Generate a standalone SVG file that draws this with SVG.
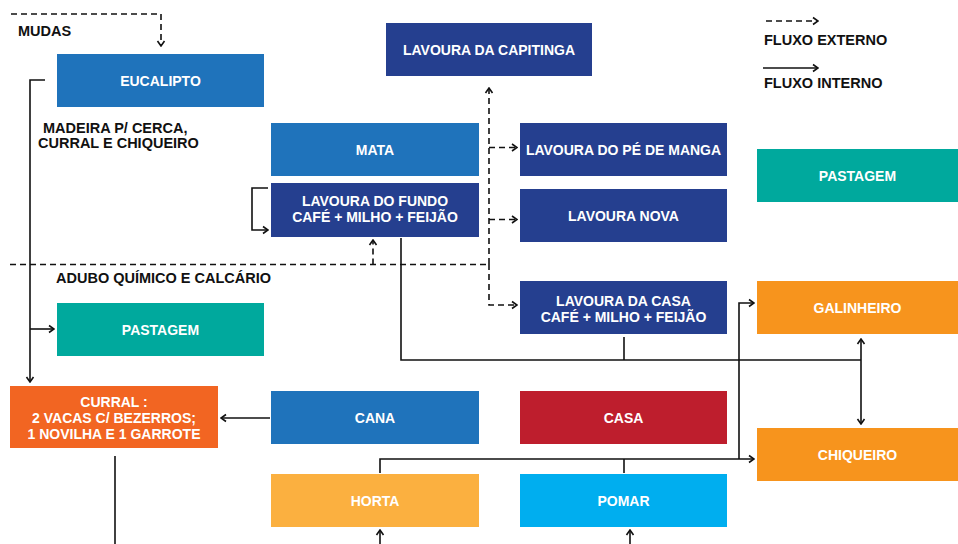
<svg xmlns="http://www.w3.org/2000/svg" width="958" height="544" viewBox="0 0 958 544">
<defs>
<marker id="ah" viewBox="0 0 10 10" refX="9" refY="5" markerWidth="10" markerHeight="10" markerUnits="userSpaceOnUse" orient="auto-start-reverse">
<path d="M4,1.5 L9,5 L4,8.5" fill="none" stroke="#111" stroke-width="1.6"/>
</marker>
<style>
.box text{font-family:"Liberation Sans",Arial,sans-serif;font-weight:bold;font-size:14px;fill:#fff;text-anchor:middle}
.lbl{font-family:"Liberation Sans",Arial,sans-serif;font-weight:bold;font-size:14.5px;fill:#111}
.s{fill:none;stroke:#111;stroke-width:1.6}
.d{fill:none;stroke:#111;stroke-width:1.6;stroke-dasharray:6,4}
.b1{fill:#1f73bb}.b2{fill:#253f8f}.tl{fill:#00a99d}.og{fill:#f7941d}.cu{fill:#f26522}.ca{fill:#be1e2d}.ho{fill:#fbb040}.po{fill:#00aeef}
</style>
</defs>
<g id="connectors">
<path class="d" d="M11,14 H161 V46" marker-end="url(#ah)"/>
<path class="s" d="M45,80 H30 V382" marker-end="url(#ah)"/>
<path class="s" d="M30,329 H54" marker-end="url(#ah)"/>
<path class="d" d="M10,264.5 H489"/>
<path class="d" d="M373,264.5 V240" marker-end="url(#ah)"/>
<path class="d" d="M489,264 V88" marker-end="url(#ah)"/>
<path class="d" d="M489,264 V305 H517" marker-end="url(#ah)"/>
<path class="d" d="M489,147.5 H517" marker-end="url(#ah)"/>
<path class="d" d="M489,219.5 H517" marker-end="url(#ah)"/>
<path class="s" d="M268,188 H252 V230 H268" marker-end="url(#ah)"/>
<path class="s" d="M401,238 V360 H861"/>
<path class="s" d="M624,337 V360"/>
<path class="s" d="M861,339 V424" marker-start="url(#ah)" marker-end="url(#ah)"/>
<path class="s" d="M739,459 V303 H754" marker-end="url(#ah)"/>
<path class="s" d="M380,473 V459 H754" marker-end="url(#ah)"/>
<path class="s" d="M624,459 V473"/>
<path class="s" d="M270,418 H221" marker-end="url(#ah)"/>
<path class="s" d="M115,456 V544"/>
<path class="s" d="M380,544 V530" marker-end="url(#ah)"/>
<path class="s" d="M630,544 V530" marker-end="url(#ah)"/>
<path class="d" d="M766,21 H818" marker-end="url(#ah)"/>
<path class="s" d="M763,68 H818" marker-end="url(#ah)"/>
</g>
<g id="labels">
<text class="lbl" x="18" y="36">MUDAS</text>
<text class="lbl" x="43" y="133">MADEIRA P/ CERCA,</text>
<text class="lbl" x="38" y="148">CURRAL E CHIQUEIRO</text>
<text class="lbl" x="56" y="283">ADUBO QUÍMICO E CALCÁRIO</text>
<text class="lbl" x="764" y="45">FLUXO EXTERNO</text>
<text class="lbl" x="764" y="88">FLUXO INTERNO</text>
</g>
<g id="eucalipto" class="box"><rect class="b1" x="57" y="54" width="207" height="53"/><text x="160.5" y="85.5">EUCALIPTO</text></g>
<g id="capitinga" class="box"><rect class="b2" x="386" y="23" width="206" height="53"/><text x="489" y="54.5">LAVOURA DA CAPITINGA</text></g>
<g id="mata" class="box"><rect class="b1" x="271" y="123" width="208" height="53"/><text x="375" y="154.5">MATA</text></g>
<g id="lavoura-fundo" class="box"><rect class="b2" x="271" y="183" width="208" height="54"/><text x="375" y="206">LAVOURA DO FUNDO</text><text x="375" y="222">CAFÉ + MILHO + FEIJÃO</text></g>
<g id="pe-de-manga" class="box"><rect class="b2" x="520" y="123" width="207" height="53"/><text x="623.5" y="154.5">LAVOURA DO PÉ DE MANGA</text></g>
<g id="lavoura-nova" class="box"><rect class="b2" x="520" y="189" width="207" height="53"/><text x="623.5" y="220.5">LAVOURA NOVA</text></g>
<g id="pastagem-direita" class="box"><rect class="tl" x="757" y="149" width="201" height="53"/><text x="857.5" y="180.5">PASTAGEM</text></g>
<g id="lavoura-casa" class="box"><rect class="b2" x="520" y="281" width="207" height="53"/><text x="623.5" y="306">LAVOURA DA CASA</text><text x="623.5" y="322">CAFÉ + MILHO + FEIJÃO</text></g>
<g id="galinheiro" class="box"><rect class="og" x="757" y="281" width="201" height="53"/><text x="857.5" y="312.5">GALINHEIRO</text></g>
<g id="pastagem-esquerda" class="box"><rect class="tl" x="57" y="303" width="207" height="53"/><text x="160.5" y="334.5">PASTAGEM</text></g>
<g id="curral" class="box"><rect class="cu" x="10" y="386" width="208" height="62"/><text x="114" y="407">CURRAL :</text><text x="114" y="423">2 VACAS C/ BEZERROS;</text><text x="114" y="439">1 NOVILHA E 1 GARROTE</text></g>
<g id="cana" class="box"><rect class="b1" x="271" y="391" width="208" height="53"/><text x="375" y="422.5">CANA</text></g>
<g id="casa" class="box"><rect class="ca" x="520" y="391" width="207" height="53"/><text x="623.5" y="422.5">CASA</text></g>
<g id="chiqueiro" class="box"><rect class="og" x="757" y="428" width="201" height="53"/><text x="857.5" y="459.5">CHIQUEIRO</text></g>
<g id="horta" class="box"><rect class="ho" x="271" y="474" width="208" height="53"/><text x="375" y="505.5">HORTA</text></g>
<g id="pomar" class="box"><rect class="po" x="520" y="474" width="207" height="53"/><text x="623.5" y="505.5">POMAR</text></g>
</svg>
